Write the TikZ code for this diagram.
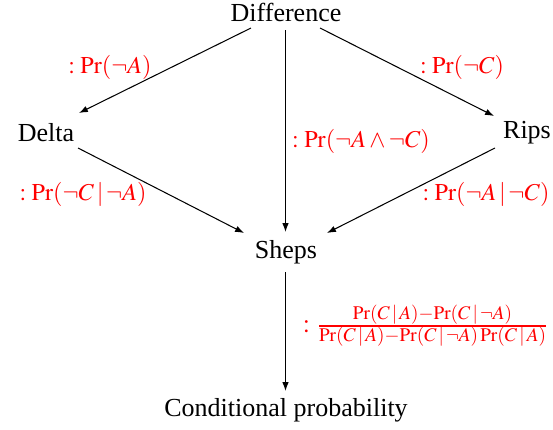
\documentclass[tikz,border=0pt]{standalone}
\usepackage{mathptmx}
\usepackage{fontspec}
\setmainfont{Liberation Serif}
\usetikzlibrary{arrows.meta}
\begin{document}
\begin{tikzpicture}[x=0.3846pt,y=-0.3846pt,
  nd/.style={inner sep=1pt,font=\fontsize{10}{12}\selectfont},
  lbl/.style={text=red,inner sep=0pt,font=\fontsize{9.3}{11}\selectfont},
  arr/.style={draw,-{Latex[length=3.4pt,width=2.5pt]},line width=0.4pt}]
\useasboundingbox (0,0) rectangle (553,430);
\node[nd] (diff) at (286,12) {Difference};
\node[nd] (delta) at (46,133) {Delta};
\node[nd] (rips) at (527,133) {Rips};
\node[nd] (sheps) at (286,252) {Sheps};
\node[nd] (cond) at (286,410) {Conditional probability};
\coordinate (a1) at (251,28);  \coordinate (b1) at (79,113);
\coordinate (a2) at (320,28);  \coordinate (b2) at (494,116);
\coordinate (a3) at (285.5,30); \coordinate (b3) at (285.5,232);
\coordinate (a4) at (78,148);  \coordinate (b4) at (244,233);
\coordinate (a5) at (495,148); \coordinate (b5) at (327,233);
\coordinate (a6) at (285.5,272); \coordinate (b6) at (285.5,391);
\draw[arr] (a1) -- (b1);
\draw[arr] (a2) -- (b2);
\draw[arr] (a3) -- (b3);
\draw[arr] (a4) -- (b4);
\draw[arr] (a5) -- (b5);
\draw[arr] (a6) -- (b6);
\node[lbl] (l1) at (110,67) {$:\Pr(\neg A)$};
\node[lbl] (l2) at (462,67) {$:\Pr(\neg C)$};
\node[lbl] (l3) at (361,141) {$:\Pr(\neg A\wedge\neg C)$};
\node[lbl] (l4) at (83,194) {$:\Pr(\neg C\,|\,\neg A)$};
\node[lbl] (l5) at (486,194) {$:\Pr(\neg A\,|\,\neg C)$};
\node[lbl,font=\fontsize{10}{12}\selectfont] (l6) at (426,326) {$:\frac{\Pr(C\,|\,A)-\Pr(C\,|\,\neg A)}{\Pr(C\,|\,A)-\Pr(C\,|\,\neg A)\Pr(C\,|\,A)}$};
\end{tikzpicture}
\end{document}
